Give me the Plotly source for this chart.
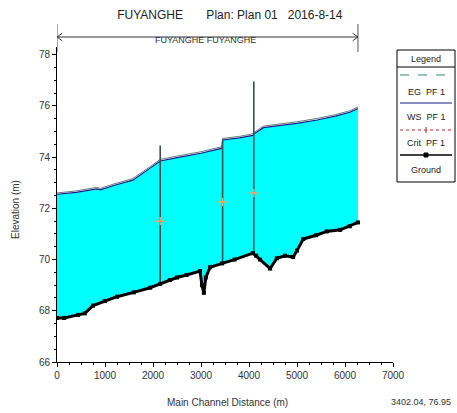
import plotly.graph_objects as go

# ---------------- data ----------------
ground_dist = [0, 150, 440, 580, 750, 1000, 1250, 1600, 1940, 2150, 2350, 2500, 2700, 2980,
               3020, 3060, 3100, 3190, 3440, 3700, 4080, 4150, 4230, 4440, 4580, 4750, 4920,
               5000, 5130, 5400, 5620, 5900, 6100, 6270]
ground_elev = [67.72, 67.72, 67.84, 67.9, 68.2, 68.38, 68.55, 68.72, 68.9, 69.05, 69.2, 69.3,
               69.4, 69.55, 69.0, 68.7, 69.3, 69.7, 69.85, 70.0, 70.25, 70.15, 70.0, 69.65,
               70.05, 70.15, 70.1, 70.35, 70.8, 70.95, 71.1, 71.16, 71.3, 71.45]

ws_dist = [0, 400, 830, 900, 1200, 1580, 1940, 2150, 2560, 3000, 3440, 3450, 3800, 4080,
           4100, 4300, 4700, 5000, 5420, 5800, 6100, 6270]
ws_elev = [72.55, 72.62, 72.76, 72.72, 72.9, 73.1, 73.57, 73.85, 74.0, 74.15, 74.35, 74.67,
           74.75, 74.85, 74.9, 75.15, 75.25, 75.32, 75.45, 75.6, 75.75, 75.9]
eg_elev = [72.6, 72.68, 72.82, 72.78, 72.96, 73.16, 73.63, 73.91, 74.06, 74.21, 74.41, 74.73,
           74.81, 74.91, 74.96, 75.21, 75.31, 75.38, 75.51, 75.66, 75.81, 75.96]

struct_dist = [2150, 3450, 4100]
struct_bottom = [69.05, 69.85, 70.25]
struct_top = [74.45, 74.67, 76.95]

crit_dist = [2150, 3450, 4100]
crit_elev = [71.5, 72.25, 72.6]

reach_start, reach_end = 0, 6270
x_ticks = [0, 1000, 2000, 3000, 4000, 5000, 6000, 7000]
y_ticks = [66, 68, 70, 72, 74, 76, 78]

FONT = "Liberation Sans Narrow, Arial Narrow, Liberation Sans, Arial"
TXT = "#333"

fig = go.Figure()

fig.add_trace(go.Scatter(x=ground_dist, y=ground_elev, mode="lines",
                         line=dict(color="black", width=0), showlegend=False, hoverinfo="skip"))
fig.add_trace(go.Scatter(x=ws_dist, y=ws_elev, mode="lines", fill="tonexty",
                         fillcolor="#00FFFF", line=dict(color="#1c1c8c", width=1.2),
                         showlegend=False))
fig.add_trace(go.Scatter(x=ws_dist, y=eg_elev, mode="lines",
                         line=dict(color="#3f5a55", width=0.8), showlegend=False))
sx, sy = [], []
for d, b, t in zip(struct_dist, struct_bottom, struct_top):
    sx += [d, d, None]
    sy += [b, t, None]
fig.add_trace(go.Scatter(x=sx, y=sy, mode="lines",
                         line=dict(color="#3a4f4f", width=1.6), showlegend=False))
fig.add_trace(go.Scatter(x=crit_dist, y=crit_elev, mode="markers",
                         marker=dict(symbol="cross-thin-open", size=6,
                                     line=dict(color="#ff2020", width=1.5)),
                         showlegend=False))
fig.add_trace(go.Scatter(x=ground_dist, y=ground_elev, mode="lines+markers",
                         line=dict(color="black", width=3),
                         marker=dict(symbol="square", size=4, color="black"),
                         showlegend=False))

fig.update_layout(
    width=457, height=413,
    margin=dict(l=57, r=64, t=47, b=51),
    paper_bgcolor="white", plot_bgcolor="white",
    font=dict(family=FONT, size=10, color=TXT),
    title=dict(text="FUYANGHE" + "&nbsp;" * 7 + "Plan: Plan 01" + "&nbsp;" * 3 + "2016-8-14",
               x=0.503, xanchor="center", y=0.963, yanchor="middle", yref="container",
               font=dict(family=FONT, size=12, color="#222")),
    xaxis=dict(range=[0, 7000], tickvals=x_ticks, showgrid=False, zeroline=False,
               showline=True, linecolor="black", linewidth=1,
               ticks="outside", ticklen=4, tickcolor="black",
               minor=dict(dtick=250, ticks="outside", ticklen=2, tickcolor="black"),
               tickfont=dict(size=10, color=TXT)),
    yaxis=dict(range=[66, 78.3], tickvals=y_ticks, showgrid=False, zeroline=False,
               showline=True, linecolor="black", linewidth=1,
               ticks="outside", ticklen=4, tickcolor="black",
               minor=dict(dtick=0.5, ticks="outside", ticklen=2, tickcolor="black"),
               tickfont=dict(size=10, color=TXT)),
)

shapes = []
annotations = []


def px(p):
    return (p - 57) / 336


def py(p):
    return (362 - p) / 315


def note(text, x, y, size=10, xref="paper", angle=0, color=TXT, xanchor="center"):
    annotations.append(dict(text=text, xref=xref, yref="paper", x=x, y=y, textangle=angle,
                            xanchor=xanchor, yanchor="middle", showarrow=False,
                            font=dict(family=FONT, size=size, color=color)))


# reach bar
ry = py(37)
shapes.append(dict(type="line", xref="x", yref="paper", x0=reach_start, x1=reach_end,
                   y0=ry, y1=ry, line=dict(color="#333", width=1)))
for xv in (reach_start, reach_end):
    shapes.append(dict(type="line", xref="x", yref="paper", x0=xv, x1=xv,
                       y0=py(52), y1=py(24), line=dict(color="#555", width=1)))
for xv, sgn in ((reach_start, 1), (reach_end, -1)):
    shapes.append(dict(type="line", xref="x", yref="paper", x0=xv, x1=xv + sgn * 110,
                       y0=ry, y1=ry + 0.012, line=dict(color="#333", width=1)))
    shapes.append(dict(type="line", xref="x", yref="paper", x0=xv, x1=xv + sgn * 110,
                       y0=ry, y1=ry - 0.012, line=dict(color="#333", width=1)))
note("FUYANGHE FUYANGHE", 3100, py(40), size=9, xref="x")

# axis titles
note("Elevation (m)", px(16), py(210), angle=-90)
note("Main Channel Distance (m)", px(227), py(402))
note("3402.04, 76.95", px(453), py(402), size=9, xanchor="right")

# legend box
shapes.append(dict(type="rect", xref="paper", yref="paper", x0=px(397), x1=px(455),
                   y0=py(182), y1=py(50), line=dict(color="black", width=1), fillcolor="white"))
shapes.append(dict(type="line", xref="paper", yref="paper", x0=px(397), x1=px(455),
                   y0=py(67), y1=py(67), line=dict(color="black", width=1)))
lx0, lx1, lxc = px(400), px(452), px(426)
note("Legend", lxc, py(59), size=9, color="#222")
shapes.append(dict(type="line", xref="paper", yref="paper", x0=lx0, x1=lx1, y0=py(75), y1=py(75),
                   line=dict(color="#2e8b6a", width=1, dash="dash")))
note("EG  PF 1", lxc, py(92), size=9, color="#222")
shapes.append(dict(type="line", xref="paper", yref="paper", x0=lx0, x1=lx1, y0=py(103), y1=py(103),
                   line=dict(color="#1c1c8c", width=1.2)))
note("WS  PF 1", lxc, py(117), size=9, color="#222")
shapes.append(dict(type="line", xref="paper", yref="paper", x0=lx0, x1=lx1, y0=py(130), y1=py(130),
                   line=dict(color="#d02020", width=1, dash="dot")))
shapes.append(dict(type="line", xref="paper", yref="paper", x0=lxc, x1=lxc, y0=py(127), y1=py(133),
                   line=dict(color="#d02020", width=1)))
note("Crit  PF 1", lxc, py(143), size=9, color="#222")
shapes.append(dict(type="line", xref="paper", yref="paper", x0=lx0, x1=lx1, y0=py(155), y1=py(155),
                   line=dict(color="black", width=1.5)))
shapes.append(dict(type="rect", xref="paper", yref="paper", x0=px(424), x1=px(428),
                   y0=py(157), y1=py(153), line=dict(color="black", width=1), fillcolor="black"))
note("Ground", lxc, py(170), size=9, color="#222")

fig.update_layout(shapes=shapes, annotations=annotations)
fig.write_html("out.html", config={"displayModeBar": False},
               post_script="document.body.style.margin='0';")
